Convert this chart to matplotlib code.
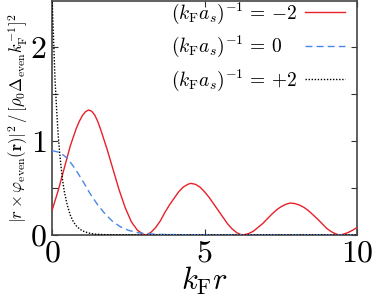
import matplotlib
matplotlib.use('Agg')
import matplotlib.pyplot as plt

plt.rcParams['mathtext.fontset'] = 'cm'
plt.rcParams['font.family'] = 'serif'
plt.rcParams['font.serif'] = ['cmr10', 'DejaVu Serif']
plt.rcParams['axes.formatter.use_mathtext'] = True

# (kF as)^-1 = -2
x_bcs = [0, 0.2, 0.4, 0.6, 0.8, 0.9, 1.0, 1.1, 1.2, 1.3, 1.4, 1.5, 1.6, 1.8, 2.0, 2.2, 2.4, 2.6, 2.8, 3.0, 3.1,
         3.25, 3.4, 3.55, 3.7, 3.85, 4.0, 4.15, 4.3, 4.45, 4.55, 4.7, 4.85, 5.0, 5.15, 5.3,
         5.45, 5.6, 5.75, 5.9, 6.05, 6.17, 6.27,
         6.45, 6.6, 6.75, 6.9, 7.05, 7.2, 7.35, 7.5, 7.65, 7.8, 7.95, 8.1, 8.25, 8.4, 8.55,
         8.7, 8.85, 9.0, 9.15, 9.3, 9.43, 9.55, 9.7, 9.85, 10.0]
y_bcs = [0.26, 0.47, 0.71, 0.95, 1.14, 1.215, 1.275, 1.315, 1.333, 1.32, 1.28, 1.21, 1.12, 0.92, 0.70, 0.48, 0.29, 0.14, 0.05, 0.005, 0.0,
         0.03, 0.08, 0.15, 0.24, 0.32, 0.39, 0.46, 0.51, 0.54, 0.55, 0.54, 0.51, 0.46, 0.40, 0.33,
         0.26, 0.19, 0.12, 0.065, 0.025, 0.006, 0.0,
         0.015, 0.04, 0.08, 0.12, 0.17, 0.22, 0.265, 0.30, 0.325, 0.34, 0.335, 0.32, 0.295, 0.26, 0.215,
         0.17, 0.12, 0.07, 0.035, 0.01, 0.0, 0.008, 0.025, 0.05, 0.08]

# (kF as)^-1 = 0
x_uni = [0, 0.25, 0.5, 0.75, 1.0, 1.25, 1.5, 1.75, 2.0, 2.25, 2.5, 2.75, 3.0, 3.5, 4.0, 4.5, 5.0, 10.0]
y_uni = [0.90, 0.88, 0.82, 0.71, 0.58, 0.44, 0.32, 0.22, 0.14, 0.085, 0.05, 0.028, 0.015, 0.006, 0.004, 0.002, 0.0, 0.0]

# (kF as)^-1 = +2
x_bec = [0, 0.05, 0.1, 0.15, 0.2, 0.25, 0.3, 0.35, 0.4, 0.5, 0.6, 0.7, 0.8, 0.9, 1.0, 1.2, 1.4, 1.7, 2.0, 3.0, 10.0]
y_bec = [2.55, 2.1, 1.65, 1.35, 1.08, 0.88, 0.72, 0.58, 0.47, 0.32, 0.21, 0.14, 0.095, 0.065, 0.043, 0.02, 0.009, 0.003, 0.001, 0.0, 0.0]

labels = [r'$(k_{\rm F}a_s)^{-1}\,=\,{-2}$',
          r'$(k_{\rm F}a_s)^{-1}\,=\,{0}$',
          r'$(k_{\rm F}a_s)^{-1}\,=\,{+2}$']

fig = plt.figure(figsize=(3.74, 2.97), dpi=100)
ax = fig.add_axes([0.139, 0.209, 0.816, 0.789])

ax.plot(x_bcs, y_bcs, color='#e8202a', lw=1.0, label=labels[0], zorder=3)
ax.plot(x_uni, y_uni, color='#4a86e8', lw=1.0, ls=(0, (5, 3)), label=labels[1], zorder=3)
ax.plot(x_bec, y_bec, color='black', lw=1.0, ls=(0, (1, 1.2)), label=labels[2], zorder=3)

ax.set_xlim(0, 10)
ax.set_ylim(0, 2.5)
ax.set_xticks([0, 5, 10])
ax.set_xticklabels([r'$0$', r'$5$', r'$10$'])
ax.set_yticks([0, 1, 2])
ax.set_yticklabels([r'$0$', r'$1$', r'$2$'])
ax.set_yticks([0.5, 1.5], minor=True)
ax.tick_params(which='both', direction='in', length=4, width=0.8, top=True, right=True,
               labelsize=23, colors='#333333', labelcolor='black', pad=4)
for s in ax.spines.values():
    s.set_linewidth(1.2)
    s.set_color('#444444')

ax.set_xlabel(r'$k_{\rm F}r$', fontsize=22, labelpad=-2)
ax.set_ylabel(r'$|r\times\varphi_{\rm even}(\mathbf{r})|^2\,/\,[\rho_0\Delta_{\rm even}k_{\rm F}^{-1}]^2$',
              fontsize=12, labelpad=0)

leg = ax.legend(loc='upper right', bbox_to_anchor=(0.96, 1.0), frameon=False, fontsize=14,
                markerfirst=False, handlelength=2.05, handletextpad=0.4, labelspacing=0.42,
                borderaxespad=0.0, borderpad=0.0)

# texts left-aligned, line samples in one column: widen the gap of shorter rows
fig.canvas.draw()
r = fig.canvas.get_renderer()
widths = [t.get_window_extent(r).width for t in leg.get_texts()]
wmax = max(widths)
for col in leg._legend_handle_box.get_children():
    col.align = 'left'
    for row, w in zip(col.get_children(), widths):
        row.sep = row.sep + (wmax - w) * 72.0 / fig.dpi

fig.savefig('out.png', dpi=100)
